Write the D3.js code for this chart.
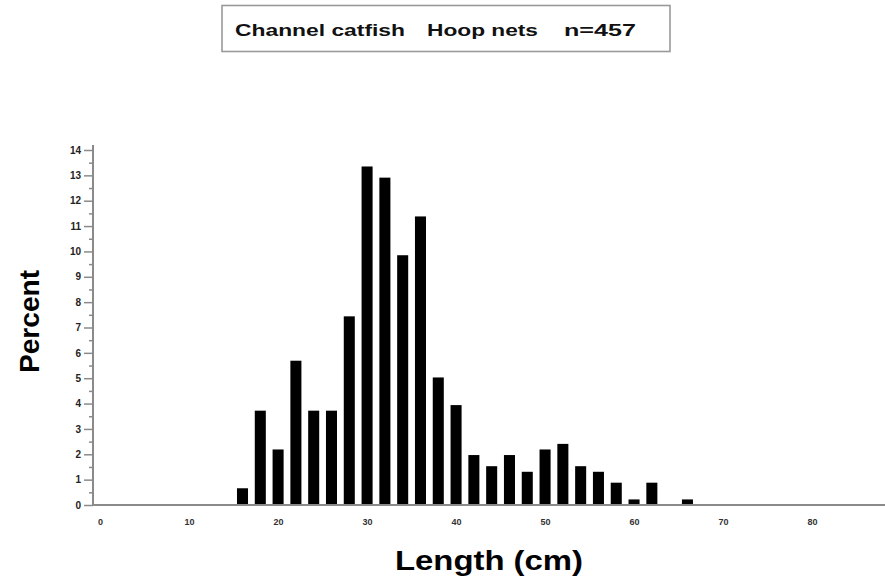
<!DOCTYPE html>
<html><head><meta charset="utf-8">
<script src="https://cdn.jsdelivr.net/npm/d3@7"></script>
<style>body{margin:0;background:#fff}svg{display:block}text{font-family:"Liberation Sans",Arial,sans-serif}</style>
</head><body>
<script>
const lengths = [16,18,20,22,24,26,28,30,32,34,36,38,40,42,44,46,48,50,52,54,56,58,60,62,64,66];
const percents = [0.66,3.72,2.19,5.69,3.72,3.72,7.44,13.35,12.91,9.85,11.38,5.03,3.94,1.97,1.53,1.97,1.31,2.19,2.41,1.53,1.31,0.88,0.22,0.88,0,0.22];
const xTicks = [0,10,20,30,40,50,60,70,80];
const yTicks = [0,1,2,3,4,5,6,7,8,9,10,11,12,13,14];
const titleParts = ["Channel catfish","Hoop nets","n=457"];
const xTitle = "Length  (cm)";
const yTitle = "Percent";

const W=885,H=581;
const svg=d3.select("body").append("svg").attr("width",W).attr("height",H);
const x=d3.scaleLinear().domain([-0.8,88.2]).range([93,885]);
const y=d3.scaleLinear().domain([0,14]).range([505,150]);
const axisCol="#8a8a8a";

// title box
svg.append("rect").attr("x",222).attr("y",5.5).attr("width",448).attr("height",46)
  .attr("fill","#fff").attr("stroke","#999").attr("stroke-width",1.6);
const tPos=[[235,170],[427,111],[564,72]];
titleParts.forEach((t,i)=>{
  svg.append("text").attr("x",tPos[i][0]).attr("y",36).attr("font-size",17).attr("font-weight","bold")
    .attr("textLength",tPos[i][1]).attr("lengthAdjust","spacingAndGlyphs").attr("fill","#111").text(t);
});

// bars
svg.append("g").selectAll("rect").data(lengths.map((l,i)=>({l,p:percents[i]})).filter(d=>d.p>0))
  .join("rect")
  .attr("x",d=>x(d.l-0.62)).attr("width",d=>x(d.l+0.62)-x(d.l-0.62))
  .attr("y",d=>y(d.p)).attr("height",d=>y(0)-y(d.p)).attr("fill","#000");

// y axis
const yAxis=d3.axisLeft(y).tickValues(yTicks).tickSize(9).tickPadding(3).tickFormat(d3.format("d"));
const gy=svg.append("g").attr("transform","translate(93,0)").call(yAxis);
gy.select(".domain").remove();
gy.selectAll(".tick line").attr("stroke",axisCol).attr("stroke-width",1.5);
gy.selectAll(".tick text").attr("font-size",10).attr("font-weight","bold").attr("fill","#222")
  .attr("font-family","Liberation Sans, Arial, sans-serif");
const yMinor=d3.axisLeft(y).tickValues(d3.range(0.5,14,1)).tickSize(4).tickFormat("");
const gym=svg.append("g").attr("transform","translate(93,0)").call(yMinor);
gym.select(".domain").remove();
gym.selectAll(".tick line").attr("stroke",axisCol).attr("stroke-width",1.5);
svg.append("line").attr("x1",93).attr("x2",93).attr("y1",145).attr("y2",506)
  .attr("stroke",axisCol).attr("stroke-width",2);

// x axis
const xAxis=d3.axisBottom(x).tickValues(xTicks).tickSize(0).tickPadding(14).tickFormat(d3.format("d"));
const gx=svg.append("g").attr("transform","translate(0,505)").call(xAxis);
gx.select(".domain").remove();
gx.selectAll(".tick text").attr("font-size",9).attr("font-weight","bold").attr("fill","#333")
  .attr("font-family","Liberation Sans, Arial, sans-serif");
svg.append("line").attr("x1",92).attr("x2",885).attr("y1",505).attr("y2",505)
  .attr("stroke",axisCol).attr("stroke-width",2);

// axis titles
svg.append("text").attr("x",395).attr("y",570).attr("font-size",28).attr("font-weight","bold")
  .attr("textLength",188).attr("lengthAdjust","spacingAndGlyphs").attr("fill","#000").text(xTitle);
svg.append("text").attr("transform","translate(39,373) rotate(-90)").attr("font-size",28).attr("font-weight","bold")
  .attr("textLength",103).attr("lengthAdjust","spacingAndGlyphs").attr("fill","#000").text(yTitle);
</script>
</body></html>
